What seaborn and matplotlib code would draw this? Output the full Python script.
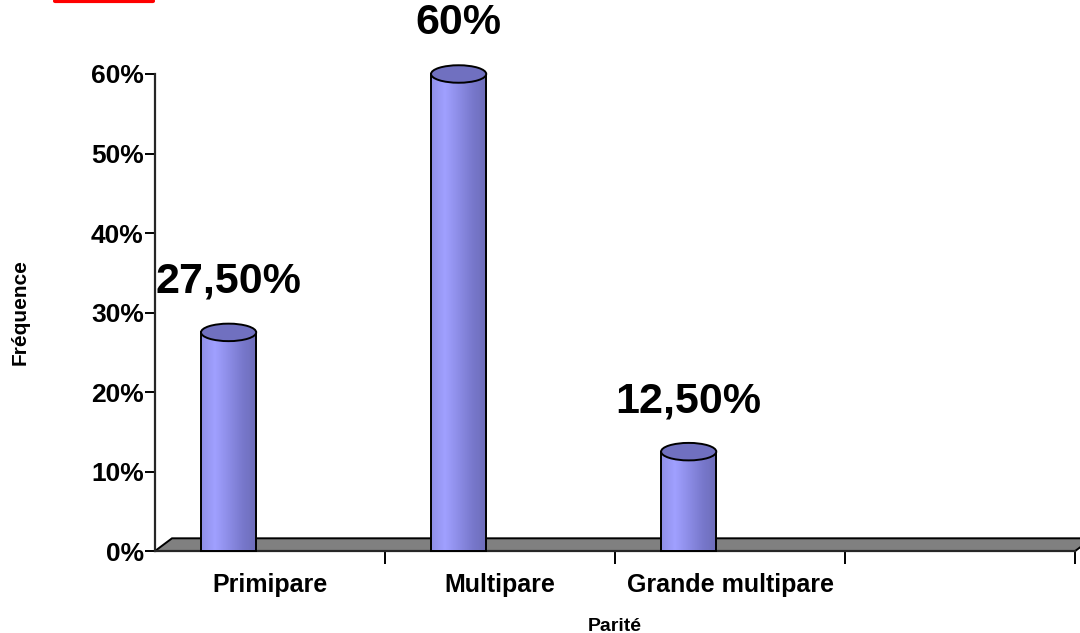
import numpy as np
import pandas as pd
import matplotlib
matplotlib.use("Agg")
import matplotlib.pyplot as plt
import seaborn as sns
from matplotlib.colors import LinearSegmentedColormap
from matplotlib.patches import Ellipse, Polygon
from matplotlib.lines import Line2D

# Data
categories = ["Primipare", "Multipare", "Grande multipare"]
values = [27.5, 60.0, 12.5]
value_labels = ["27,50%", "60%", "12,50%"]
y_ticks = [0, 10, 20, 30, 40, 50, 60]

sns.set_style("white")
plt.rcParams["font.family"] = ["Liberation Sans", "DejaVu Sans"]
plt.rcParams["font.weight"] = "bold"
for k in ["text.color", "axes.labelcolor", "xtick.color", "ytick.color"]:
    plt.rcParams[k] = "black"

fig = plt.figure(figsize=(10.8, 6.33), dpi=100)
ax = fig.add_axes([0.1435, 0.1295, 0.852, 0.7536])

df = pd.DataFrame({"Parité": categories, "Fréquence": values})
sns.barplot(data=df, x="Parité", y="Fréquence", color="#9999ff", width=0.24,
            edgecolor="black", linewidth=1.4, ax=ax, zorder=3)

ax.set_xlim(-0.5, 3.5)
ax.set_ylim(0, 60)

# grey floor
dx, dy = 0.074, 1.6
floor = Polygon([(-0.5, 0), (3.5, 0), (3.5 + dx, dy), (-0.5 + dx, dy)],
                closed=True, facecolor="#808080", edgecolor="black", lw=1.4,
                zorder=1, clip_on=False)
ax.add_patch(floor)

cmap = LinearSegmentedColormap.from_list("cyl", ["#8f8fe8", "#a0a0ff", "#8c8ce6", "#7878cc", "#6c6cb8"])
grad = np.linspace(0, 1, 256).reshape(1, -1)

for p, lab in zip(ax.patches, value_labels):
    p.set_x(p.get_x() - 0.18)
    x0, w, h = p.get_x(), p.get_width(), p.get_height()
    im = ax.imshow(grad, extent=[x0, x0 + w, 0, h], aspect="auto", cmap=cmap,
                   zorder=3.5, clip_on=False)
    im.set_clip_path(p)
    p.set_facecolor("none")
    p.set_zorder(4)
    p.set_clip_on(False)
    ax.add_patch(Ellipse((x0 + w / 2, h), w, 2.2, facecolor="#7070c0",
                         edgecolor="black", lw=1.4, zorder=5, clip_on=False))
    ax.annotate(lab, (x0 + w / 2, h), xytext=(0, 22), textcoords="offset points",
                ha="center", va="bottom", fontsize=31, fontweight="bold",
                annotation_clip=False)

ax.set_xlim(-0.5, 3.5)
ax.set_ylim(0, 60)

# axes styling
for s in ["top", "right"]:
    ax.spines[s].set_visible(False)
ax.spines["left"].set_linewidth(1.6)
ax.spines["bottom"].set_linewidth(1.6)
ax.spines["bottom"].set_zorder(2)

ax.set_yticks(y_ticks)
ax.set_yticklabels([f"{t}%" for t in y_ticks], fontsize=19, fontweight="bold")
ax.tick_params(axis="y", length=7, width=1.4, direction="out", left=True, pad=1)

ax.set_xticks(range(len(categories)))
ax.set_xticklabels(categories, fontsize=18, fontweight="bold")
ax.set_xticks([0.5, 1.5, 2.5, 3.5], minor=True)
ax.tick_params(axis="x", which="major", length=0, pad=16)
ax.tick_params(axis="x", which="minor", length=9, width=1.4, direction="out", bottom=True)

ax.set_xlabel("Parité", fontsize=14, fontweight="bold", labelpad=15)
ax.set_ylabel("Fréquence", fontsize=15, fontweight="bold", labelpad=44)

# clipped red title underline at the very top
fig.add_artist(Line2D([55 / 1080, 153 / 1080], [1 - 1 / 633, 1 - 1 / 633],
                      color="red", lw=3, transform=fig.transFigure))

fig.savefig("out.png", dpi=100)
